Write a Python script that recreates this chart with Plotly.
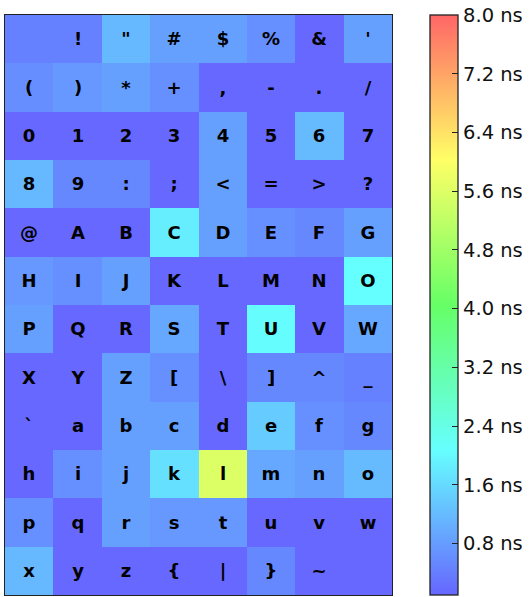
import plotly.graph_objects as go

# Character grid (rows top to bottom), ASCII 32..127
char_rows = [
    [" ", "!", '"', "#", "$", "%", "&amp;", "'"],
    ["(", ")", "*", "+", ",", "-", ".", "/"],
    ["0", "1", "2", "3", "4", "5", "6", "7"],
    ["8", "9", ":", ";", "&lt;", "=", "&gt;", "?"],
    ["@", "A", "B", "C", "D", "E", "F", "G"],
    ["H", "I", "J", "K", "L", "M", "N", "O"],
    ["P", "Q", "R", "S", "T", "U", "V", "W"],
    ["X", "Y", "Z", "[", "\\", "]", "^", "_"],
    ["`", "a", "b", "c", "d", "e", "f", "g"],
    ["h", "i", "j", "k", "l", "m", "n", "o"],
    ["p", "q", "r", "s", "t", "u", "v", "w"],
    ["x", "y", "z", "{", "|", "}", "~", ""],
]

# Timing values in ns (estimated from colours)
time_ns = [
    [0.45, 0.45, 1.16, 0.85, 0.85, 0.64, 0.12, 0.85],
    [0.62, 0.75, 0.85, 0.64, 0.12, 0.12, 0.12, 0.12],
    [0.12, 0.12, 0.12, 0.12, 0.85, 0.12, 1.20, 0.12],
    [1.16, 0.54, 0.54, 0.12, 0.85, 0.12, 0.12, 0.12],
    [0.12, 0.12, 0.12, 1.86, 0.85, 0.64, 0.54, 0.85],
    [0.75, 0.64, 0.85, 0.12, 0.12, 0.12, 0.12, 2.07],
    [0.85, 0.12, 0.12, 0.95, 0.12, 2.05, 0.12, 0.95],
    [0.12, 0.12, 0.85, 0.64, 0.12, 0.54, 0.54, 0.45],
    [0.12, 0.12, 0.85, 0.85, 0.12, 1.42, 0.64, 0.54],
    [0.12, 0.64, 0.85, 1.68, 5.58, 0.95, 0.85, 1.20],
    [0.64, 0.12, 0.85, 0.75, 0.75, 0.12, 0.12, 0.12],
    [1.16, 0.12, 0.12, 0.12, 0.12, 0.54, 0.12, 0.12],
]

z_min, z_max = 0.1, 8.0
tick_vals = [0.8, 1.6, 2.4, 3.2, 4.0, 4.8, 5.6, 6.4, 7.2, 8.0]
tick_text = [f"{v:.1f} ns" for v in tick_vals]

colorscale = [
    [0.0, "rgb(102,102,255)"],
    [0.25, "rgb(102,255,255)"],
    [0.5, "rgb(102,255,102)"],
    [0.75, "rgb(255,255,102)"],
    [1.0, "rgb(255,102,102)"],
]

fig = go.Figure(
    go.Heatmap(
        z=time_ns,
        text=char_rows,
        texttemplate="%{text}",
        textfont=dict(family="DejaVu Sans", size=18, color="black", weight="bold"),
        colorscale=colorscale,
        zmin=z_min,
        zmax=z_max,
        xgap=0,
        ygap=0,
        hoverinfo="skip",
        colorbar=dict(
            x=1.098,
            xanchor="left",
            xpad=0,
            y=0,
            yanchor="bottom",
            ypad=0,
            len=1,
            lenmode="fraction",
            thickness=28,
            outlinewidth=1.3,
            outlinecolor="#222",
            ticks="inside",
            ticklen=6,
            tickwidth=1.3,
            tickcolor="#222",
            tickvals=tick_vals,
            ticktext=tick_text,
            tickfont=dict(family="DejaVu Sans", size=19.5, color="#111"),
        ),
    )
)

fig.update_xaxes(
    showticklabels=False, ticks="", showgrid=False, zeroline=False,
    showline=True, mirror=True, linecolor="#222", linewidth=1.3,
)
fig.update_yaxes(
    showticklabels=False, ticks="", showgrid=False, zeroline=False,
    autorange="reversed",
    showline=True, mirror=True, linecolor="#222", linewidth=1.3,
)

fig.update_layout(
    width=531,
    height=597,
    margin=dict(l=5, r=139, t=15, b=2, autoexpand=False),
    paper_bgcolor="white",
    plot_bgcolor="white",
)

fig.write_html(
    "out.html",
    config={"displayModeBar": False},
    post_script="document.body.style.margin='0';",
)
